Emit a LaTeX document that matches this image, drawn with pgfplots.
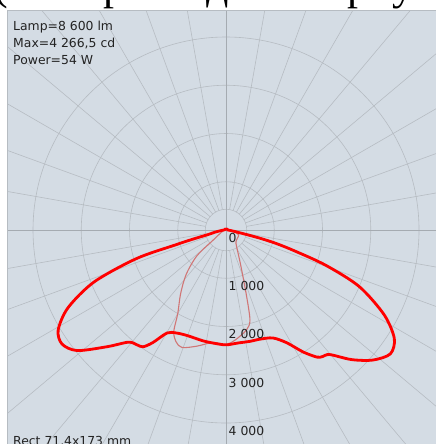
\documentclass[border=0pt]{standalone}
\usepackage{fontspec}
\setmainfont{DejaVu Sans}
\newfontfamily\seriffont{Liberation Serif}
\usepackage{pgfplots}
\pgfplotsset{compat=1.18}
\usepackage{pgfplotstable}
\definecolor{panel}{RGB}{212,220,228}
\definecolor{gridc}{RGB}{182,188,194}
\definecolor{axisc}{RGB}{165,171,177}
\definecolor{thinred}{RGB}{208,118,118}
\definecolor{labc}{RGB}{35,35,35}
\newcommand\lab{\fontsize{12.4bp}{14bp}\selectfont}

% C0-C180 plane: gamma (deg, signed), intensity (cd)
\pgfplotstableread{
g I
-180 25
-130 25
-100 30
-88 60
-82 130
-78.5 250
-76 360
-74.5 740
-73.6 1080
-72.3 1950
-68.5 2940
-63.8 3650
-59.2 4050
-55.2 4140
-51 3970
-45.5 3450
-41 3080
-37.7 3010
-35.4 2970
-33 2780
-29.8 2460
-25.8 2370
-20 2330
-12 2345
-6 2360
0 2380
6 2355
12 2360
17.3 2370
23.5 2440
28.4 2660
32.3 2990
35.6 3240
37.4 3300
39.8 3360
44.1 3740
48.5 4067
53 4265
57.2 4150
61.8 3720
67 3000
70.5 2200
73 1500
75 1070
76.5 700
78 360
80 200
84 90
90 40
120 30
180 25
}\thickdata

% C90-C270 plane
\pgfplotstableread{
g I
-180 15
-100 20
-75 50
-62 120
-52 330
-48.5 800
-42 1230
-35.5 1620
-30 2000
-27.2 2370
-24 2540
-20.5 2600
-14 2480
-6.6 2345
0 2370
4.7 2290
11.7 2110
14.9 1930
17.2 1450
21.4 890
25 650
33 400
40 320
55 290
69 280
80 150
90 50
120 20
180 15
}\thindata

\begin{document}
\begin{tikzpicture}
\begin{axis}[
  at={(0,0)}, anchor=south west, scale only axis,
  width=429bp, height=433bp,
  xmin=-4539, xmax=4352, ymin=-4435, ymax=4539,
  hide axis, clip=true,
]
\fill[panel] (axis cs:-4539,-4435) rectangle (axis cs:4352,4539);
% radial grid
\pgfplotsinvokeforeach{0,10,...,350}{
  \draw[gridc, line width=0.6bp] (axis cs:{430*cos(#1)},{430*sin(#1)}) -- (axis cs:{7000*cos(#1)},{7000*sin(#1)});
}
% circles
\draw[gridc, line width=0.6bp] (axis cs:0,0) circle[radius=430];
\draw[gridc, line width=0.6bp] (axis cs:0,0) circle[radius=1000];
\draw[gridc, line width=0.6bp] (axis cs:0,0) circle[radius=2000];
\draw[gridc, line width=0.6bp] (axis cs:0,0) circle[radius=3000];
\draw[gridc, line width=0.6bp] (axis cs:0,0) circle[radius=4000];
% axes
\draw[axisc, line width=0.9bp] (axis cs:-4539,0) -- (axis cs:4352,0);
\draw[axisc, line width=0.9bp] (axis cs:0,-4435) -- (axis cs:0,4539);
% border
\draw[gridc, line width=1bp] (axis cs:-4539,-4435) -- (axis cs:-4539,4539) -- (axis cs:4352,4539);

\addplot[thinred, line width=1.1bp, smooth, tension=0.5]
  table[x expr={\thisrow{I}*sin(\thisrow{g})}, y expr={-\thisrow{I}*cos(\thisrow{g})}] {\thindata};
\addplot[red, line width=2.8bp, smooth, tension=0.5]
  table[x expr={\thisrow{I}*sin(\thisrow{g})}, y expr={-\thisrow{I}*cos(\thisrow{g})}] {\thickdata};

% radial labels
\node[anchor=base west, font=\lab, text=labc, inner sep=0] at (axis cs:52,-255) {0};
\node[anchor=base west, font=\lab, text=labc, inner sep=0] at (axis cs:52,-1255) {1 000};
\node[anchor=base west, font=\lab, text=labc, inner sep=0] at (axis cs:52,-2255) {2 000};
\node[anchor=base west, font=\lab, text=labc, inner sep=0] at (axis cs:52,-3255) {3 000};
\node[anchor=base west, font=\lab, text=labc, inner sep=0] at (axis cs:52,-4255) {4 000};
% info text
\node[anchor=base west, font=\lab, text=labc, inner sep=0] at (axis cs:-4414,4130) {Lamp=8 600 lm};
\node[anchor=base west, font=\lab, text=labc, inner sep=0] at (axis cs:-4414,3786) {Max=4 266,5 cd};
\node[anchor=base west, font=\lab, text=labc, inner sep=0] at (axis cs:-4414,3420) {Power=54 W};
\node[anchor=base west, font=\lab, text=labc, inner sep=0] at (axis cs:-4414,-4470) {Rect 71,4x173 mm};
\end{axis}
% cut-off text line above the chart
\begin{scope}
\clip (-7bp,433bp) rectangle (429bp,444bp);
\node[anchor=base west, inner sep=0, font=\seriffont\fontsize{44bp}{48bp}\selectfont] at (-14bp,444.5bp) {(};
\node[anchor=base west, inner sep=0, font=\seriffont\fontsize{44bp}{48bp}\selectfont] at (96bp,444.5bp) {р};
\node[anchor=base west, inner sep=0, font=\seriffont\fontsize{44bp}{48bp}\selectfont] at (199bp,444.5bp) {д};
\node[anchor=base west, inner sep=0, font=\seriffont\fontsize{44bp}{48bp}\selectfont] at (340bp,444.5bp) {р};
\node[anchor=base west, inner sep=0, font=\seriffont\fontsize{44bp}{48bp}\selectfont] at (385bp,444.5bp) {у};
\end{scope}
\pgfresetboundingbox
\useasboundingbox (-7bp,0) rectangle (429bp,444bp);
\end{tikzpicture}
\end{document}
